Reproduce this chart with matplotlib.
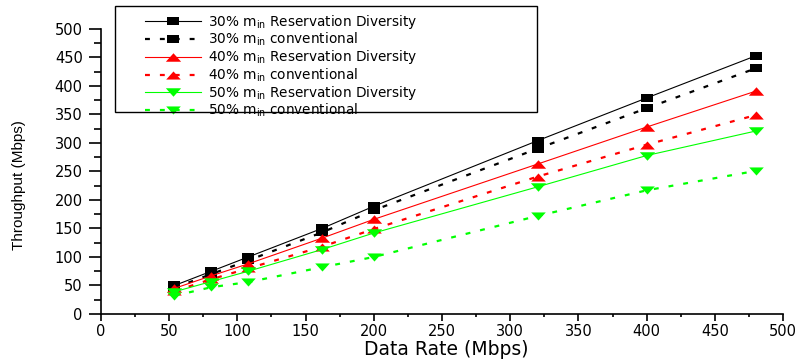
import matplotlib
matplotlib.use("Agg")
import matplotlib.pyplot as plt
from matplotlib.patches import Rectangle
from matplotlib.ticker import MultipleLocator

# ==========================
# DADOS
# ==========================
data_rate = [54, 81, 108, 162, 200, 320, 400, 480]

rd30 = [50, 75, 100, 150, 189, 304, 379, 453]
conv30 = [46, 70, 94, 143, 182, 290, 361, 431]
rd40 = [45, 67, 88, 133, 166, 263, 328, 391]
conv40 = [40, 61, 80, 118, 149, 241, 297, 349]
rd50 = [39, 57, 75, 113, 142, 223, 278, 321]
conv50 = [32, 47, 56, 82, 100, 172, 217, 251]

labels = [
    r"30% m$_{\mathrm{in}}$ Reservation Diversity",
    r"30% m$_{\mathrm{in}}$ conventional",
    r"40% m$_{\mathrm{in}}$ Reservation Diversity",
    r"40% m$_{\mathrm{in}}$ conventional",
    r"50% m$_{\mathrm{in}}$ Reservation Diversity",
    r"50% m$_{\mathrm{in}}$ conventional",
]

# ==========================
# ESTILO
# ==========================
plt.rcParams["font.family"] = ["DejaVu Sans"]
plt.rcParams["mathtext.fontset"] = "dejavusans"

# marcadores achatados (a imagem original foi esticada na horizontal)
sq = [(-1.5, -1), (1.5, -1), (1.5, 1), (-1.5, 1), (-1.5, -1)]
tri_up = [(-0.9, -0.5), (0.9, -0.5), (0, 0.5), (-0.9, -0.5)]
tri_dn = [(-0.9, 0.5), (0.9, 0.5), (0, -0.5), (-0.9, 0.5)]

fig = plt.figure(figsize=(8, 3.62), dpi=100)
ax = fig.add_axes([0.126, 0.1326, 0.853, 0.7874])

dash = (0, (2.2, 4.5))
series = [
    (rd30, "black", sq, "-", 9),
    (conv30, "black", sq, dash, 9),
    (rd40, "red", tri_up, "-", 11),
    (conv40, "red", tri_up, dash, 10.5),
    (rd50, "#00ff00", tri_dn, "-", 11),
    (conv50, "#00ff00", tri_dn, dash, 10.5),
]

for (vals, cor, mk, ls, ms), lab in zip(series, labels):
    lw = 0.8 if ls == "-" else 1.6
    ax.plot(data_rate, vals, color=cor, marker=mk, linestyle=ls,
            linewidth=lw, markersize=ms, markeredgewidth=0, label=lab)

ax.set_xlim(0, 500)
ax.set_ylim(0, 500)
ax.xaxis.set_major_locator(MultipleLocator(50))
ax.xaxis.set_minor_locator(MultipleLocator(25))
ax.yaxis.set_major_locator(MultipleLocator(50))
ax.yaxis.set_minor_locator(MultipleLocator(25))
ax.spines["top"].set_visible(False)
ax.spines["right"].set_visible(False)
ax.spines["left"].set_linewidth(1.2)
ax.spines["bottom"].set_linewidth(1.2)

ax.tick_params(axis="x", which="major", direction="out", length=5, width=1.2, labelsize=10.5, pad=2.5)
ax.tick_params(axis="x", which="minor", direction="out", length=2.5, width=1.2)
ax.tick_params(axis="y", which="major", direction="out", length=8.5, width=1.2, labelsize=10.5, pad=4.5)
ax.tick_params(axis="y", which="minor", direction="out", length=4.8, width=1.2)

ax.set_xlabel("Data Rate (Mbps)", fontsize=13.5, va="top")
ax.xaxis.set_label_coords(0.506, -0.092)
ax.set_ylabel("Throughput (Mbps)", fontsize=11, family="Liberation Sans")
ax.yaxis.set_label_coords(-0.109, 0.453)

# legenda sem moldura + moldura desenhada a parte
leg = ax.legend(loc="upper left", bbox_to_anchor=(145 / 800, 1 - 13 / 362),
                bbox_transform=fig.transFigure, fontsize=9.8,
                frameon=False, handlelength=4.1, handletextpad=0.5,
                labelspacing=0.0, borderpad=0, borderaxespad=0)
fig.add_artist(Rectangle((115 / 800, 1 - 112 / 362), 422 / 800, 106 / 362,
                         transform=fig.transFigure, fill=False,
                         edgecolor="black", linewidth=1.0, zorder=5))

fig.savefig("out.png", dpi=100)
